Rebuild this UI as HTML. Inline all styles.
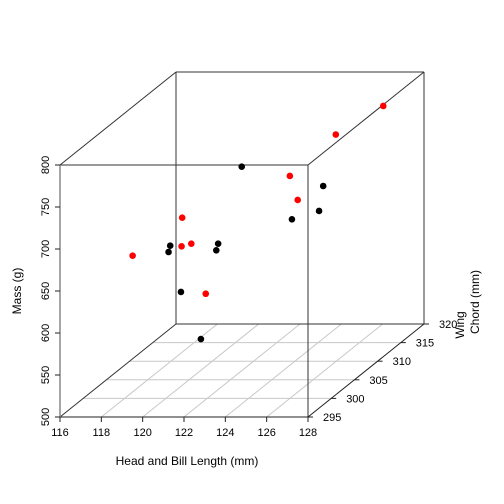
<!DOCTYPE html>
<html><head><meta charset="utf-8"><style>
html,body{margin:0;padding:0;background:#fff;}
svg{display:block;font-family:"Liberation Sans",sans-serif;}
</style></head><body>
<svg id="chart" width="504" height="504" viewBox="0 0 504 504" xmlns="http://www.w3.org/2000/svg">
<g id="grid"></g>
<g id="box"></g>
<g id="axes"></g>
<g id="pts"></g>
<text x="187" y="465" font-size="12" text-anchor="middle">Head and Bill Length (mm)</text>
<text x="0" y="0" font-size="12" text-anchor="middle" transform="translate(21,291) rotate(-90)">Mass (g)</text>
<text x="0" y="0" font-size="12" text-anchor="middle" transform="translate(464,325) rotate(-90)">Wing</text>
<text x="0" y="0" font-size="12" text-anchor="middle" transform="translate(479,302) rotate(-90)">Chord (mm)</text>
</svg>
<script>
const xTicks=[116,118,120,122,124,126,128];
const yTicks=[500,550,600,650,700,750,800];
const zTicks=[295,300,305,310,315,320];
const headLen=[128.05,127.1,123.67,126.0,126.49,125.93,126.29,126.1,120.79,120.21,120.13,120.76,121.23,122.53,122.44,119.29,120.73,121.93,119.45];
const wingChord=[311,305,300,300,305,302,305,300,300,300,300,300,300,300,300,296,300,300,310];
const mass=[799.4,792,775.8,764.8,730.7,727.4,701,713.2,715.1,681.8,674.3,681.1,684.2,684.2,676.3,687.6,626.7,624.6,526.4];
const sex=["F","F","M","F","M","F","M","M","F","M","M","F","F","M","M","F","M","F","M"];
const NS="http://www.w3.org/2000/svg";
const X0=60,X1=308,Y0=417,Y1=165,DX=116,DY=-93;
function px(h,w){return X0+(h-116)/12*(X1-X0)+(w-295)/25*DX;}
function py(m,w){return Y0-(m-500)/300*(Y0-Y1)+(w-295)/25*DY;}
function mk(tag,attrs,parent){const e=document.createElementNS(NS,tag);for(const k in attrs)e.setAttribute(k,attrs[k]);parent.appendChild(e);return e;}
const grid=document.getElementById('grid'),box=document.getElementById('box'),axes=document.getElementById('axes'),pts=document.getElementById('pts');
// floor grid
zTicks.forEach(w=>{if(w===295||w===320)return;
 const l=mk('line',{x1:px(116,w),y1:py(500,w),x2:px(128,w),y2:py(500,w),stroke:'#c8c8c8','stroke-width':1},grid);
 
 });
xTicks.forEach(h=>{if(h===116||h===128)return;
 const l=mk('line',{x1:px(h,295),y1:py(500,295),x2:px(h,320),y2:py(500,320),stroke:'#c8c8c8','stroke-width':1},grid);
 
 });
// box edges
const edges=[[116,800,295,128,800,295],[128,800,295,128,500,295],[116,800,295,116,800,320],[128,800,295,128,800,320],[116,500,295,116,500,320],
[116,800,320,128,800,320],[116,800,320,116,500,320],[128,800,320,128,500,320],[116,500,320,128,500,320]];
edges.forEach(e=>{const l=mk('line',{x1:px(e[0],e[2]),y1:py(e[1],e[2]),x2:px(e[3],e[5]),y2:py(e[4],e[5]),stroke:'#333','stroke-width':1},box);
 
 });
// x axis
const xa=mk('line',{x1:X0,y1:Y0,x2:X1,y2:Y0,stroke:'#222'},axes);


xTicks.forEach(h=>{const x=px(h,295);
 const t=mk('line',{x1:x,y1:Y0,x2:x,y2:Y0+5,stroke:'#222'},axes);
 
 
 const tx=mk('text',{x:x,y:Y0+19,'font-size':11,'text-anchor':'middle'},axes);tx.textContent=h;
 
 });
// y axis
const ya=mk('line',{x1:X0,y1:Y0,x2:X0,y2:Y1,stroke:'#888','stroke-width':1.5},axes);


yTicks.forEach(m=>{const y=py(m,295);
 const t=mk('line',{x1:X0-5,y1:y,x2:X0,y2:y,stroke:'#222'},axes);
 
 
 const tx=mk('text',{x:0,y:0,'font-size':11,'text-anchor':'middle',transform:`translate(49,${y}) rotate(-90)`},axes);tx.textContent=m;
 
 });
// z axis
const za=mk('line',{x1:px(128,295),y1:py(500,295),x2:px(128,320),y2:py(500,320),stroke:'#222'},axes);


zTicks.forEach(w=>{const x=px(128,w),y=py(500,w);
 const t=mk('line',{x1:x,y1:y,x2:x+5,y2:y,stroke:'#222'},axes);
 
 
 const tx=mk('text',{x:x+15,y:y+4,'font-size':11,'text-anchor':'start'},axes);tx.textContent=w;
 
 });
// points
headLen.forEach((h,i)=>{const c=mk('circle',{cx:px(h,wingChord[i]),cy:py(mass[i],wingChord[i]),r:3.3,fill:sex[i]==='F'?'#ff0000':'#000'},pts);
 
 });
</script>
</body></html>
